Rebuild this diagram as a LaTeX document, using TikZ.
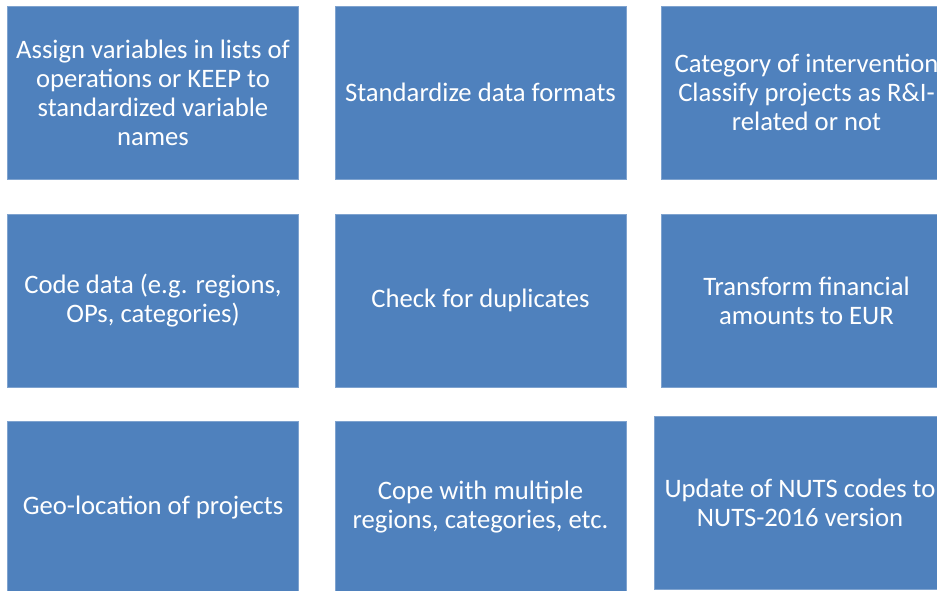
\documentclass[tikz,border=0pt]{standalone}
\usepackage{fontspec}
\setmainfont{Carlito}
\definecolor{boxblue}{HTML}{4F81BD}
\definecolor{boxedge}{HTML}{7FA3CF}
\tikzset{
  box/.style={fill=boxblue, draw=boxedge, line width=0.6pt, inner sep=0pt,
    minimum width=218.25pt, minimum height=129.75pt, text=white, align=center,
    font=\fontsize{20}{21.75}\selectfont}
}
\begin{document}
\begin{tikzpicture}[x=0.75pt,y=-0.75pt]
\useasboundingbox (0,0) rectangle (937,590);
\node[box] (a1) at (153,92.5) {Assign variables in lists of\\operations or KEEP to\\standardized variable\\names};
\node[box] (a2) at (480.5,92.5) {Standardize data formats};
\node[box] (a3) at (806.5,92.5) {Category of intervention\\Classify projects as R\&I-\\related or not};
\node[box] (b1) at (153,300.5) {Code data (e.g. regions,\\OPs, categories)};
\node[box] (b2) at (480.5,300.5) {Check for duplicates};
\node[box] (b3) at (806.5,300.5) {Transform financial\\amounts to EUR};
\node[box] (c1) at (153,507.5) {Geo-location of projects};
\node[box] (c2) at (480.5,507.5) {Cope with multiple\\regions, categories, etc.};
\node[box] (c3) at (800,502.5) {Update of NUTS codes to\\NUTS-2016 version};
\end{tikzpicture}
\end{document}
